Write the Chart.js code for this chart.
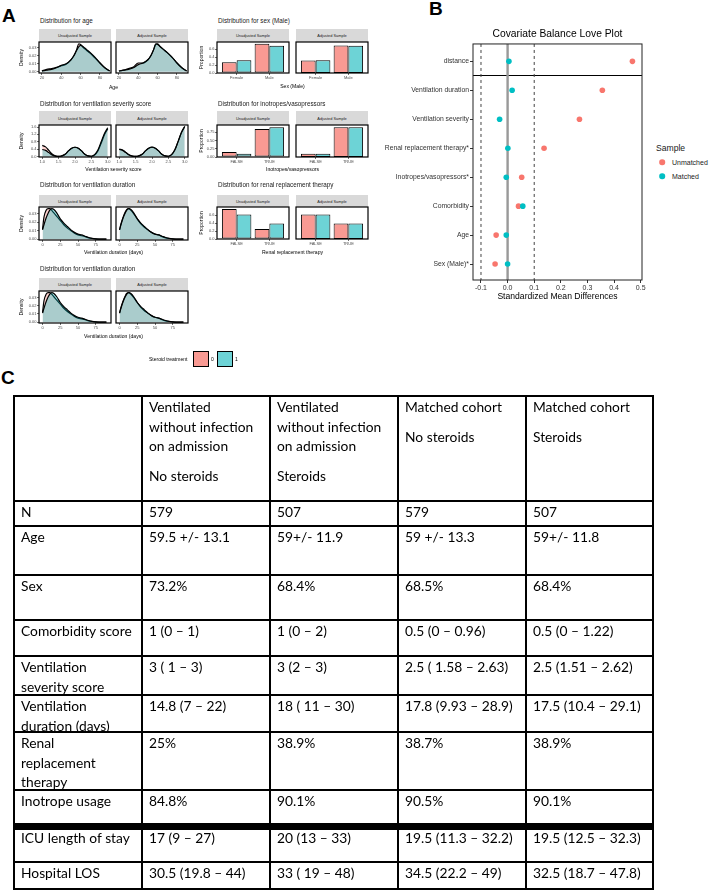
<!DOCTYPE html>
<html>
<head>
<meta charset="utf-8">
<script src="https://cdn.jsdelivr.net/npm/chart.js@4.4.1/dist/chart.umd.min.js"></script>
<style>
  body { margin: 0; width: 710px; height: 891px; overflow: hidden; background: #fff; position: relative;
         font-family: "Liberation Sans", Arial, sans-serif; }
  canvas { position: absolute; }
  .letter { position: absolute; font-weight: bold; font-size: 19px; line-height: 19px; }
  .ptitle { position: absolute; font-size: 6.3px; line-height: 1; color: #1a1a1a; white-space: nowrap; transform: translateY(-50%); }
  .strip { position: absolute; background: #d9d9d9; color: #1a1a1a; font-size: 3.9px; white-space: nowrap;
           display: flex; align-items: center; justify-content: center; }
  .xtitle { position: absolute; font-size: 5.1px; line-height: 1; white-space: nowrap; transform: translate(-50%, -50%); }
  .leg { position: absolute; font-size: 5px; line-height: 1; white-space: nowrap; transform: translateY(-50%); }
  .swatch { position: absolute; box-sizing: border-box; border: 1.3px solid #000; width: 16px; height: 16px; }
  .btext { position: absolute; white-space: nowrap; line-height: 1; transform: translateY(-50%); color: #1a1a1a; }
  .dot { position: absolute; width: 5.6px; height: 5.6px; border-radius: 50%; transform: translate(-50%, -50%); }
  .cell { position: absolute; box-sizing: border-box; border: 2px solid #000; padding: 0 2px 0 6px;
          font-family: Lato, sans-serif; font-size: 13.8px; line-height: 19.5px; color: #000; white-space: nowrap; overflow: hidden; }
  .gap { margin-top: 10.6px; }
</style>
</head>
<body>
<script>
// ---------- Panel A: densities / proportions ----------
const ageX = [20, 25, 30, 35, 40, 45, 50, 53, 56, 58, 60, 63, 66, 70, 75, 80, 85, 90];
const ageUnadjNo = [0.001, 0.003, 0.004, 0.0055, 0.0075, 0.0095, 0.015, 0.020, 0.028, 0.035, 0.034, 0.030, 0.027, 0.023, 0.017, 0.011, 0.005, 0.001];
const ageUnadjSt = [0.001, 0.002, 0.003, 0.005, 0.008, 0.010, 0.015, 0.020, 0.027, 0.031, 0.033, 0.031, 0.028, 0.024, 0.018, 0.011, 0.005, 0.001];
const ageAdjNo   = [0.001, 0.002, 0.004, 0.006, 0.011, 0.011, 0.015, 0.020, 0.028, 0.034, 0.035, 0.031, 0.028, 0.024, 0.018, 0.011, 0.005, 0.001];
const ageAdjSt   = [0.001, 0.002, 0.003, 0.005, 0.009, 0.011, 0.015, 0.020, 0.028, 0.035, 0.034, 0.031, 0.028, 0.024, 0.018, 0.011, 0.005, 0.001];
const ageXTicks = [20, 40, 60, 80];
const ageYTicks = [0, 0.01, 0.02, 0.03];

const sevX = [1.0, 1.1, 1.2, 1.3, 1.4, 1.5, 1.6, 1.7, 1.8, 1.9, 2.0, 2.1, 2.2, 2.3, 2.4, 2.5, 2.6, 2.7, 2.8, 2.9, 3.0];
const sevUnadjNo = [0.60, 0.52, 0.33, 0.13, 0.03, 0.00, 0.03, 0.12, 0.30, 0.45, 0.50, 0.45, 0.30, 0.12, 0.03, 0.01, 0.08, 0.30, 0.72, 1.18, 1.50];
const sevUnadjSt = [0.38, 0.33, 0.21, 0.08, 0.02, 0.00, 0.03, 0.12, 0.30, 0.45, 0.50, 0.45, 0.30, 0.12, 0.03, 0.01, 0.10, 0.35, 0.80, 1.25, 1.56];
const sevAdjNo   = [0.40, 0.35, 0.22, 0.09, 0.02, 0.00, 0.03, 0.12, 0.30, 0.45, 0.51, 0.45, 0.30, 0.12, 0.03, 0.01, 0.10, 0.36, 0.82, 1.30, 1.63];
const sevAdjSt   = [0.38, 0.33, 0.21, 0.08, 0.02, 0.00, 0.03, 0.12, 0.30, 0.45, 0.50, 0.45, 0.30, 0.12, 0.03, 0.01, 0.10, 0.36, 0.82, 1.30, 1.63];
const sevXTicks = [1.0, 1.5, 2.0, 2.5, 3.0];
const sevYTicks = [0, 0.4, 0.8, 1.2, 1.6];

const durX = [0, 2, 5, 8, 10, 13, 16, 20, 25, 30, 35, 40, 45, 50, 55, 60, 65, 70, 75, 80, 90];
const durUnadjNo = [0.012, 0.026, 0.034, 0.036, 0.036, 0.034, 0.031, 0.027, 0.022, 0.017, 0.013, 0.010, 0.007, 0.005, 0.004, 0.003, 0.0015, 0.0008, 0.0003, 0.0001, 0];
const durUnadjSt = [0.011, 0.017, 0.025, 0.031, 0.034, 0.036, 0.035, 0.031, 0.024, 0.019, 0.015, 0.011, 0.008, 0.006, 0.005, 0.0035, 0.002, 0.001, 0.0004, 0.0001, 0];
const durAdjNo   = [0.011, 0.018, 0.026, 0.032, 0.035, 0.036, 0.034, 0.030, 0.024, 0.018, 0.014, 0.011, 0.008, 0.006, 0.005, 0.003, 0.0015, 0.0008, 0.0003, 0.0001, 0];
const durAdjSt   = [0.011, 0.017, 0.025, 0.031, 0.034, 0.036, 0.035, 0.031, 0.024, 0.019, 0.015, 0.011, 0.008, 0.006, 0.005, 0.0035, 0.002, 0.001, 0.0004, 0.0001, 0];
const durXTicks = [0, 25, 50, 75];
const durYTicks = [0, 0.01, 0.02, 0.03];

const sexCats = ['Female', 'Male'];
const sexUnadjNo = [0.268, 0.732];
const sexUnadjSt = [0.316, 0.684];
const sexAdjNo   = [0.315, 0.685];
const sexAdjSt   = [0.316, 0.684];
const sexYTicks = [0, 0.2, 0.4, 0.6];

const inoCats = ['FALSE', 'TRUE'];
const inoUnadjNo = [0.152, 0.848];
const inoUnadjSt = [0.099, 0.901];
const inoAdjNo   = [0.095, 0.905];
const inoAdjSt   = [0.099, 0.901];
const inoYTicks = [0, 0.25, 0.5, 0.75];

const renalCats = ['FALSE', 'TRUE'];
const renalUnadjNo = [0.750, 0.250];
const renalUnadjSt = [0.611, 0.389];
const renalAdjNo   = [0.613, 0.387];
const renalAdjSt   = [0.611, 0.389];
const renalYTicks = [0, 0.2, 0.4, 0.6];

// ---------- Panel B: love plot ----------
const covariates = ['distance', 'Ventilation duration', 'Ventilation severity', 'Renal replacement therapy*',
  'Inotropes/vasopressors*', 'Comorbidity', 'Age', 'Sex (Male)*'];
const smdUnmatched = [0.469, 0.356, 0.270, 0.137, 0.053, 0.041, -0.043, -0.047];
const smdMatched   = [0.005, 0.017, -0.030, 0.001, -0.005, 0.057, -0.005, 0.000];
const smdThresholds = [-0.1, 0.1];
const smdZero = [0];
const smdTicks = [-0.1, 0, 0.1, 0.2, 0.3, 0.4, 0.5];

// ---------- Panel C: table ----------
const tableHeads = [
  [[], []],
  [['Ventilated', 'without infection', 'on admission'], ['No steroids']],
  [['Ventilated', 'without infection', 'on admission'], ['Steroids']],
  [['Matched cohort'], ['No steroids']],
  [['Matched cohort'], ['Steroids']]
];
const rowNames = [['N'], ['Age'], ['Sex'], ['Comorbidity score'], ['Ventilation', 'severity score'],
  ['Ventilation', 'duration (days)'], ['Renal', 'replacement', 'therapy'], ['Inotrope usage'],
  ['ICU length of stay'], ['Hospital LOS']];
const colNoSteroids = ['579', '59.5 +/- 13.1', '73.2%', '1 (0 – 1)', '3 ( 1 – 3)', '14.8 (7 – 22)', '25%', '84.8%', '17 (9 – 27)', '30.5 (19.8 – 44)'];
const colSteroids = ['507', '59+/- 11.9', '68.4%', '1 (0 – 2)', '3 (2 – 3)', '18 ( 11 – 30)', '38.9%', '90.1%', '20 (13 – 33)', '33 ( 19 – 48)'];
const colMatchedNo = ['579', '59 +/- 13.3', '68.5%', '0.5 (0 – 0.96)', '2.5 ( 1.58 – 2.63)', '17.8 (9.93 – 28.9)', '38.7%', '90.5%', '19.5 (11.3 – 32.2)', '34.5 (22.2 – 49)'];
const colMatchedSt = ['507', '59+/- 11.8', '68.4%', '0.5 (0 – 1.22)', '2.5 (1.51 – 2.62)', '17.5 (10.4 – 29.1)', '38.9%', '90.1%', '19.5 (12.5 – 32.3)', '32.5 (18.7 – 47.8)'];

// ----------------------------------------------------------------
Chart.defaults.font.family = '"Liberation Sans", Arial, sans-serif';
Chart.defaults.animation = false;

const PINK_FILL = 'rgba(248,118,109,0.33)';
const TEAL_FILL = 'rgba(0,191,196,0.33)';
const PINK_BAR = '#f99a93';
const TEAL_BAR = '#6dd3d6';
const W = 72, PAD = 6, YW = 24, XH = 9;

const frame = {
  id: 'frame',
  afterDatasetsDraw(chart, args, opts) {
    const a = chart.chartArea, c = chart.ctx;
    c.save();
    c.strokeStyle = opts.color || '#000';
    c.lineWidth = opts.width || 1;
    c.strokeRect(a.left, a.top, a.right - a.left, a.bottom - a.top);
    c.restore();
  }
};

function addDiv(cls, text, style) {
  const d = document.createElement('div');
  d.className = cls;
  if (text !== null) d.textContent = text;
  Object.assign(d.style, style);
  document.body.appendChild(d);
  return d;
}

function makeFacet(left, top, h, first, s, pair) {
  const yw = first ? YW : 0;
  const cv = document.createElement('canvas');
  cv.width = W + yw + 2 * PAD;
  cv.height = h + XH + 2 * PAD;
  cv.style.left = (left - yw - PAD) + 'px';
  cv.style.top = (top - PAD) + 'px';
  document.body.appendChild(cv);
  const [no, st] = pair;
  let datasets;
  if (s.kind === 'density') {
    const line = { borderColor: '#000', borderWidth: 1.2, fill: 'origin', pointRadius: 0, cubicInterpolationMode: 'monotone' };
    datasets = [
      Object.assign({ data: s.x.map((v, i) => ({ x: v, y: st[i] })), backgroundColor: TEAL_FILL }, line),
      Object.assign({ data: s.x.map((v, i) => ({ x: v, y: no[i] })), backgroundColor: PINK_FILL }, line)
    ];
  } else {
    const bar = { borderColor: '#000', borderWidth: 1, borderSkipped: false, categoryPercentage: 0.9, barPercentage: 1 };
    datasets = [
      Object.assign({ data: no.map((v, i) => ({ x: i + 1, y: v })), backgroundColor: PINK_BAR }, bar),
      Object.assign({ data: st.map((v, i) => ({ x: i + 1, y: v })), backgroundColor: TEAL_BAR }, bar)
    ];
  }
  const tickGrid = { drawOnChartArea: false, tickLength: 2, tickColor: '#333', tickWidth: 0.7, offset: false };
  const tickFont = { font: { size: 4 }, color: '#4d4d4d', maxRotation: 0, autoSkip: false };
  const xTicks = s.kind === 'density' ? s.xTicks : s.cats.map((c, i) => i + 1);
  new Chart(cv, {
    type: s.kind === 'density' ? 'line' : 'bar',
    data: { datasets },
    options: {
      responsive: false, devicePixelRatio: 1,
      layout: { padding: PAD },
      plugins: { legend: { display: false }, tooltip: { enabled: false }, frame: { width: 1.2 } },
      scales: {
        x: {
          type: 'linear', min: s.xMin, max: s.xMax, offset: false,
          afterBuildTicks: sc => { sc.ticks = xTicks.map(v => ({ value: v })); },
          afterFit: sc => { sc.height = XH; },
          grid: tickGrid, border: { display: false },
          ticks: Object.assign({ padding: 0.5, callback: v => s.kind === 'density' ? v.toFixed(s.xDec) : s.cats[v - 1] }, tickFont)
        },
        y: {
          display: first, min: s.yMin, max: s.yMax,
          afterBuildTicks: sc => { sc.ticks = s.yTicks.map(v => ({ value: v })); },
          afterFit: sc => { sc.width = yw; },
          grid: tickGrid, border: { display: false },
          ticks: Object.assign({ padding: 0.5, callback: v => v.toFixed(s.yDec) }, tickFont),
          title: { display: true, text: s.yTitle, font: { size: 5.1 }, color: '#000', padding: { top: s.yTitlePad, bottom: 0 } }
        }
      }
    },
    plugins: [frame]
  });
}

function facetPair(s) {
  const lefts = s.col === 0 ? [39, 116] : [217, 296];
  addDiv('ptitle', s.title, { left: (lefts[0] + 1) + 'px', top: s.titleY + 'px' });
  ['Unadjusted Sample', 'Adjusted Sample'].forEach((name, i) => {
    addDiv('strip', name, { left: lefts[i] + 'px', top: s.strip + 'px', width: W + 'px', height: (s.top - s.strip) + 'px' });
    makeFacet(lefts[i], s.top, s.h, i === 0, s, s.series[i]);
  });
  addDiv('xtitle', s.xTitle, { left: ((lefts[0] + lefts[1] + W) / 2) + 'px', top: s.xTitleY + 'px' });
}

// Panel letters
addDiv('letter', 'A', { left: '2px', top: '6px' });
addDiv('letter', 'B', { left: '429px', top: '-1px' });
addDiv('letter', 'C', { left: '1px', top: '368px' });

const ageSpec = { kind: 'density', x: ageX, xTicks: ageXTicks, yTicks: ageYTicks, xDec: 0, yDec: 2, xMin: 17, xMax: 91.4, yMin: -0.0015, yMax: 0.0372 };
const sevSpec = { kind: 'density', x: sevX, xTicks: sevXTicks, yTicks: sevYTicks, xDec: 1, yDec: 1, xMin: 0.9, xMax: 3.1, yMin: -0.03, yMax: 1.71 };
const durSpec = { kind: 'density', x: durX, xTicks: durXTicks, yTicks: durYTicks, xDec: 0, yDec: 2, xMin: -5, xMax: 96.5, yMin: -0.001, yMax: 0.038 };

facetPair(Object.assign({}, ageSpec, { col: 0, title: 'Distribution for age', titleY: 21, strip: 29, top: 42, h: 31,
  xTitle: 'Age', xTitleY: 88, yTitle: 'Density', yTitlePad: 4, series: [[ageUnadjNo, ageUnadjSt], [ageAdjNo, ageAdjSt]] }));
facetPair(Object.assign({}, sevSpec, { col: 0, title: 'Distribution for ventilation severity score', titleY: 104, strip: 111, top: 125, h: 32,
  xTitle: 'Ventilation severity score', xTitleY: 170, yTitle: 'Density', yTitlePad: 4, series: [[sevUnadjNo, sevUnadjSt], [sevAdjNo, sevAdjSt]] }));
facetPair(Object.assign({}, durSpec, { col: 0, title: 'Distribution for ventilation duration', titleY: 185, strip: 195, top: 207, h: 33,
  xTitle: 'Ventilation duration (days)', xTitleY: 253, yTitle: 'Density', yTitlePad: 4, series: [[durUnadjNo, durUnadjSt], [durAdjNo, durAdjSt]] }));
facetPair(Object.assign({}, durSpec, { col: 0, title: 'Distribution for ventilation duration', titleY: 269, strip: 278, top: 291, h: 32,
  xTitle: 'Ventilation duration (days)', xTitleY: 337, yTitle: 'Density', yTitlePad: 4, series: [[durUnadjNo, durUnadjSt], [durAdjNo, durAdjSt]] }));

const barBase = { kind: 'bar', xMin: 0.4, xMax: 2.6, yMin: 0, yTitle: 'Proportion', yTitlePad: 6, col: 1 };
facetPair(Object.assign({}, barBase, { cats: sexCats, yTicks: sexYTicks, yDec: 1, yMax: 0.775, title: 'Distribution for sex (Male)', titleY: 21,
  strip: 29, top: 42, h: 31, xTitle: 'Sex (Male)', xTitleY: 87, series: [[sexUnadjNo, sexUnadjSt], [sexAdjNo, sexAdjSt]] }));
facetPair(Object.assign({}, barBase, { cats: inoCats, yTicks: inoYTicks, yDec: 2, yMax: 0.97, title: 'Distribution for inotropes/vasopressors', titleY: 104,
  strip: 111, top: 125, h: 32, xTitle: 'Inotropes/vasopressors', xTitleY: 170, series: [[inoUnadjNo, inoUnadjSt], [inoAdjNo, inoAdjSt]] }));
facetPair(Object.assign({}, barBase, { cats: renalCats, yTicks: renalYTicks, yDec: 1, yMax: 0.8, title: 'Distribution for renal replacement therapy', titleY: 185,
  strip: 195, top: 207, h: 32, xTitle: 'Renal replacement therapy', xTitleY: 253, series: [[renalUnadjNo, renalUnadjSt], [renalAdjNo, renalAdjSt]] }));

// legend for panel A
addDiv('leg', 'Steroid treatment', { left: '149px', top: '359px' });
addDiv('swatch', null, { left: '193px', top: '351px', background: PINK_BAR });
addDiv('leg', '0', { left: '211px', top: '359px' });
addDiv('swatch', null, { left: '217px', top: '351px', background: TEAL_BAR });
addDiv('leg', '1', { left: '235px', top: '359px' });

// ---------- Panel B ----------
(function () {
  const cv = document.createElement('canvas');
  cv.width = 272; cv.height = 280;
  cv.style.left = '378px'; cv.style.top = '24px';
  document.body.appendChild(cv);
  const xMin = -0.13, xMax = 0.505, yMin = -0.6, yMax = 7.55;
  const vline = (v, color, width, dash) => ({
    type: 'line', data: [{ x: v, y: yMin }, { x: v, y: yMax }], borderColor: color, borderWidth: width,
    borderDash: dash, pointRadius: 0, showLine: true, order: 5
  });
  new Chart(cv, {
    type: 'scatter',
    data: {
      datasets: [
        ...smdThresholds.map(t => vline(t, '#444', 1, [3, 3])),
        ...smdZero.map(t => vline(t, '#999', 2.4, [])),
        { label: 'Unmatched', data: covariates.map((c, i) => ({ x: smdUnmatched[i], y: i })), backgroundColor: '#F8766D', pointRadius: 2.8, borderWidth: 0, order: 1 },
        { label: 'Matched', data: covariates.map((c, i) => ({ x: smdMatched[i], y: i })), backgroundColor: '#00BFC4', pointRadius: 2.8, borderWidth: 0, order: 0 }
      ]
    },
    options: {
      responsive: false, devicePixelRatio: 1,
      layout: { padding: { left: 0, right: 8, top: 0, bottom: 0 } },
      plugins: {
        legend: { display: false }, tooltip: { enabled: false },
        title: { display: true, fullSize: false, text: 'Covariate Balance Love Plot', color: '#000', font: { size: 10.3, weight: 'normal' }, padding: { top: 3.8, bottom: 3.8 } },
        frame: { width: 1, color: '#222' }
      },
      scales: {
        x: {
          type: 'linear', min: xMin, max: xMax,
          afterBuildTicks: sc => { sc.ticks = smdTicks.map(v => ({ value: v })); },
          afterFit: sc => { sc.height = 24; },
          grid: { drawOnChartArea: false, tickLength: 3, tickColor: '#333' }, border: { display: false },
          ticks: { font: { size: 7 }, color: '#333', padding: 1, maxRotation: 0, autoSkip: false, callback: v => v.toFixed(1) },
          title: { display: true, text: 'Standardized Mean Differences', color: '#000', font: { size: 8.6 }, padding: { top: 0, bottom: 2 } }
        },
        y: {
          type: 'linear', reverse: true, min: yMin, max: yMax,
          afterBuildTicks: sc => { sc.ticks = covariates.map((c, i) => ({ value: i })).concat([{ value: 0.5 }]); },
          afterFit: sc => { sc.width = 95; },
          grid: {
            drawOnChartArea: true, tickLength: 3,
            color: ctx => (ctx.tick && ctx.tick.value === 0.5) ? '#000' : 'rgba(0,0,0,0)',
            tickColor: ctx => (ctx.tick && ctx.tick.value === 0.5) ? 'rgba(0,0,0,0)' : '#333'
          },
          border: { display: false },
          ticks: { font: { size: 6.8 }, color: '#333', padding: 1, autoSkip: false, callback: v => Number.isInteger(v) ? covariates[v] : '' }
        }
      }
    },
    plugins: [frame]
  });
  addDiv('btext', 'Sample', { left: '656px', top: '148px', fontSize: '8.6px' });
  addDiv('dot', null, { left: '662px', top: '162px', background: '#F8766D' });
  addDiv('btext', 'Unmatched', { left: '672px', top: '162px', fontSize: '7px' });
  addDiv('dot', null, { left: '662px', top: '176px', background: '#00BFC4' });
  addDiv('btext', 'Matched', { left: '672px', top: '176px', fontSize: '7px' });
})();

// ---------- Panel C: table ----------
(function () {
  const colX = [14, 142, 270, 398, 526, 653];
  const rowY = [396, 501, 526, 575, 620, 656, 695, 732, 790, 826.5, 862, 889];
  const bodyCols = [rowNames.map(r => r), colNoSteroids.map(v => [v]), colSteroids.map(v => [v]), colMatchedNo.map(v => [v]), colMatchedSt.map(v => [v])];
  function cell(ci, ri, html) {
    const d = document.createElement('div');
    d.className = 'cell';
    Object.assign(d.style, {
      left: (colX[ci] - 1) + 'px', top: (rowY[ri] - 1) + 'px',
      width: (colX[ci + 1] - colX[ci] + 2) + 'px', height: (rowY[ri + 1] - rowY[ri] + 2) + 'px'
    });
    d.innerHTML = html;
    document.body.appendChild(d);
  }
  tableHeads.forEach((h, ci) => {
    const html = (h[0].length ? '<div>' + h[0].join('<br>') + '</div>' : '') +
                 (h[1].length ? '<div class="gap">' + h[1].join('<br>') + '</div>' : '');
    cell(ci, 0, html);
  });
  bodyCols.forEach((col, ci) => {
    col.forEach((lines, ri) => cell(ci, ri + 1, lines.join('<br>')));
  });
  addDiv('', null, { position: 'absolute', left: '13px', top: '823px', width: '641px', height: '7px', background: '#000' });
})();
</script>
</body>
</html>
